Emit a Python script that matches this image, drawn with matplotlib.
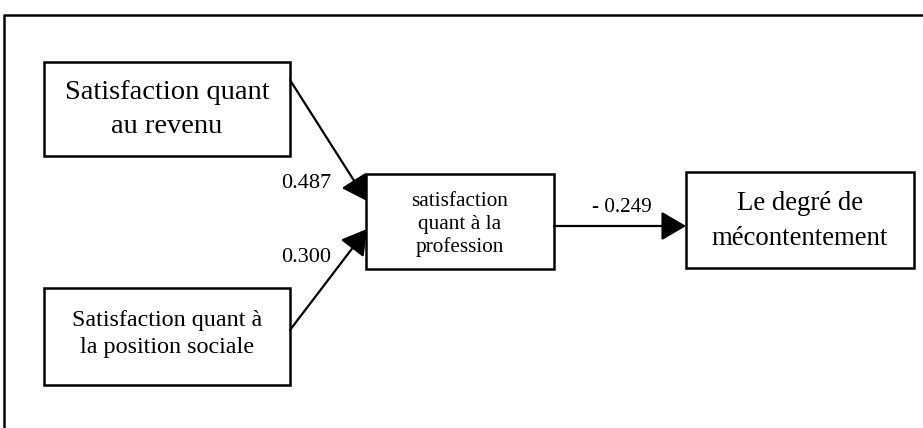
import matplotlib.pyplot as plt
from matplotlib.patches import Rectangle, FancyArrowPatch

plt.rcParams['font.family'] = ['Liberation Serif', 'DejaVu Serif']

# node labels
nodes = ['Satisfaction quant\nau revenu',
         'Satisfaction quant à\nla position sociale',
         'satisfaction\nquant à la\nprofession',
         'Le degré de\nmécontentement']
# path coefficients
coef_labels = ['0.487', '0.300', '- 0.249']

# layout in pixel coordinates (x0, y0, x1, y1), y grows downward
boxes = [(44, 62, 290, 156), (44, 288, 290, 385), (366, 174, 554, 269), (686, 172, 914, 268)]
font_sizes = [20.5, 17.4, 15.3, 19.3]
spacings = [1.47, 1.39, 1.24, 1.55]
last_baseline = [133, 353, 252, 245]

fig = plt.figure(figsize=(9.23, 4.28), dpi=100)
ax = fig.add_axes([0, 0, 1, 1])
ax.set_xlim(0, 923)
ax.set_ylim(428, 0)
ax.axis('off')

# outer frame (only top and left edge visible)
ax.plot([4, 4, 923], [428, 15, 15], color='black', lw=1.8, solid_capstyle='butt')

for (x0, y0, x1, y1), label, fs, ls, yb in zip(boxes, nodes, font_sizes, spacings, last_baseline):
    ax.add_patch(Rectangle((x0, y0), x1 - x0, y1 - y0, fill=False, ec='black', lw=1.8))
    ax.text((x0 + x1) / 2, yb, label, ha='center', va='baseline',
            fontsize=fs, linespacing=ls, multialignment='center')

def arrow(p0, p1):
    a = FancyArrowPatch(p0, p1, arrowstyle='-|>,head_length=0.85,head_width=0.5',
                        mutation_scale=18, color='black', lw=1.6, shrinkA=0, shrinkB=0)
    ax.add_patch(a)

arrow((290, 80), (367, 201))
arrow((290, 330), (367, 229))
arrow((554, 226), (686, 226))

ax.text(306, 188, coef_labels[0], ha='center', va='baseline', fontsize=16)
ax.text(306, 262, coef_labels[1], ha='center', va='baseline', fontsize=16)
ax.text(622, 212, coef_labels[2], ha='center', va='baseline', fontsize=15.3)

fig.savefig('out.png', dpi=100)
